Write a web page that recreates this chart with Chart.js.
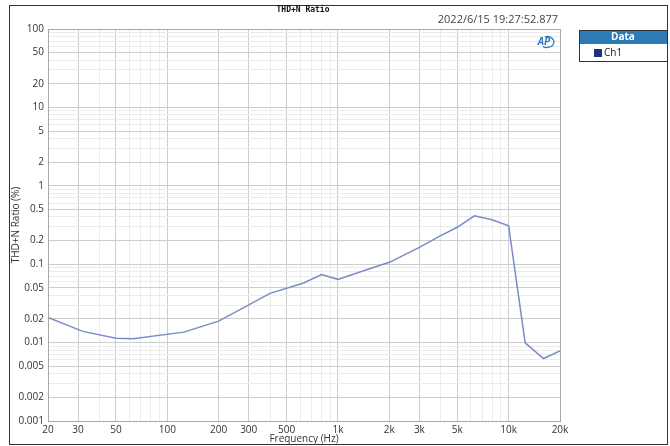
<!DOCTYPE html>
<html>
<head>
<meta charset="utf-8">
<script src="https://cdn.jsdelivr.net/npm/chart.js@4"></script>
<style>
  html, body { margin: 0; padding: 0; background: #fff; }
  #wrap { width: 670px; height: 446px; }
</style>
</head>
<body>
<div id="wrap"><canvas id="thdChart" width="670" height="446"></canvas></div>
<script>
// sweep data
const freqs = [20, 32, 50, 63, 125, 200, 400, 630, 800, 1000, 1500, 2000, 3000, 4000, 5000, 6300, 8000, 10000, 12500, 16000, 20000];
const thdn = [0.0209, 0.0139, 0.0114, 0.0112, 0.0136, 0.0188, 0.0425, 0.0577, 0.0736, 0.0641, 0.086, 0.1057, 0.164, 0.232, 0.296, 0.414, 0.368, 0.309, 0.00994, 0.00626, 0.00785];

// labelled gridlines
const yLabelled = [0.001, 0.002, 0.005, 0.01, 0.02, 0.05, 0.1, 0.2, 0.5, 1, 2, 5, 10, 20, 50, 100];
const xLabelled = [20, 30, 50, 100, 200, 300, 500, 1000, 2000, 3000, 5000, 10000, 20000];

function logTicks(min, max) {
  const out = [];
  for (let e = -4; e <= 5; e++) {
    for (let m = 1; m <= 9; m++) {
      const v = parseFloat((m * Math.pow(10, e)).toPrecision(3));
      if (v >= min && v <= max) out.push({ value: v });
    }
  }
  return out;
}
const isIn = (list, v) => list.some(l => Math.abs(l - v) / l < 1e-6);

const points = freqs.map((f, i) => ({ x: f, y: thdn[i] }));

const decor = {
  id: 'decor',
  afterDraw(chart) {
    const ctx = chart.ctx;
    const a = chart.chartArea;
    ctx.save();
    // plot border
    ctx.strokeStyle = '#a8a8a8';
    ctx.lineWidth = 1;
    ctx.strokeRect(Math.round(a.left) + 0.5, Math.round(a.top) + 0.5, Math.round(a.right - a.left), Math.round(a.bottom - a.top));
    // outer frame
    ctx.strokeStyle = '#333';
    ctx.strokeRect(9.5, 5.5, 658, 439);
    // title
    ctx.fillStyle = '#111';
    ctx.font = 'bold 8px "DejaVu Sans Mono"';
    ctx.textAlign = 'center';
    ctx.textBaseline = 'middle';
    ctx.fillText('THD+N Ratio', 303, 10);
    // timestamp
    ctx.font = '11px "Open Sans"';
    ctx.fillStyle = '#444';
    ctx.textAlign = 'right';
    ctx.fillText('2022/6/15 19:27:52.877', 558, 20);
    // AP logo
    ctx.strokeStyle = '#2f78c4';
    ctx.lineWidth = 1.3;
    ctx.beginPath();
    ctx.ellipse(547, 42, 7, 5.5, 0, -Math.PI * 0.6, Math.PI * 0.7);
    ctx.stroke();
    ctx.fillStyle = '#2f78c4';
    ctx.font = 'italic bold 10px "Open Sans"';
    ctx.textAlign = 'center';
    ctx.fillText('AP', 544, 42);
    // legend
    ctx.fillStyle = '#fff';
    ctx.fillRect(579, 30, 88, 31);
    ctx.fillStyle = '#2c7bb6';
    ctx.fillRect(579, 30, 88, 14);
    ctx.strokeStyle = '#333';
    ctx.lineWidth = 1;
    ctx.strokeRect(579.5, 30.5, 88, 31);
    ctx.fillStyle = '#fff';
    ctx.font = 'bold 10px "Open Sans"';
    ctx.fillText('Data', 623, 37.5);
    ctx.fillStyle = '#1a3580';
    ctx.fillRect(594, 49, 8, 8);
    ctx.fillStyle = '#222';
    ctx.font = '10px "Open Sans"';
    ctx.textAlign = 'left';
    ctx.fillText('Ch1', 604, 53);
    ctx.restore();
  }
};

new Chart(document.getElementById('thdChart'), {
  type: 'line',
  data: {
    datasets: [{
      label: 'Ch1',
      data: points,
      borderColor: '#7a8cc6',
      borderWidth: 1.5,
      pointRadius: 0,
      tension: 0,
      fill: false
    }]
  },
  options: {
    responsive: false,
    animation: false,
    layout: { padding: { left: 10, top: 29, right: 110, bottom: 0 } },
    plugins: {
      legend: { display: false },
      tooltip: { enabled: false }
    },
    scales: {
      x: {
        type: 'logarithmic',
        min: 20,
        max: 20000,
        afterBuildTicks: s => { s.ticks = logTicks(20, 20000); },
        afterFit: s => { s.height = 25; },
        grid: {
          drawTicks: false,
          color: c => isIn(xLabelled, c.tick.value) ? '#cdcdcd' : '#ebebeb'
        },
        border: { display: false },
        ticks: {
          autoSkip: false,
          maxRotation: 0,
          padding: 3,
          color: '#333',
          font: { family: 'Open Sans', size: 10 },
          callback: v => {
            if (!isIn(xLabelled, v)) return '';
            return v >= 1000 ? (v / 1000) + 'k' : String(v);
          }
        },
        title: {
          display: true,
          text: 'Frequency (Hz)',
          color: '#333',
          padding: { top: 0, bottom: 1 },
          font: { family: 'Open Sans', size: 10 }
        }
      },
      y: {
        type: 'logarithmic',
        min: 0.001,
        max: 100,
        afterBuildTicks: s => { s.ticks = logTicks(0.001, 100); },
        afterFit: s => { s.width = 38; },
        grid: {
          drawTicks: false,
          color: c => isIn(yLabelled, c.tick.value) ? '#cdcdcd' : '#ebebeb'
        },
        border: { display: false },
        ticks: {
          autoSkip: false,
          padding: 4,
          color: '#333',
          font: { family: 'Open Sans', size: 10 },
          callback: v => isIn(yLabelled, v) ? String(parseFloat(v.toPrecision(1))) : ''
        },
        title: {
          display: true,
          text: 'THD+N Ratio (%)',
          color: '#333',
          padding: { top: 0, bottom: 0 },
          font: { family: 'Open Sans', size: 10 }
        }
      }
    }
  },
  plugins: [decor]
});
</script>
</body>
</html>
